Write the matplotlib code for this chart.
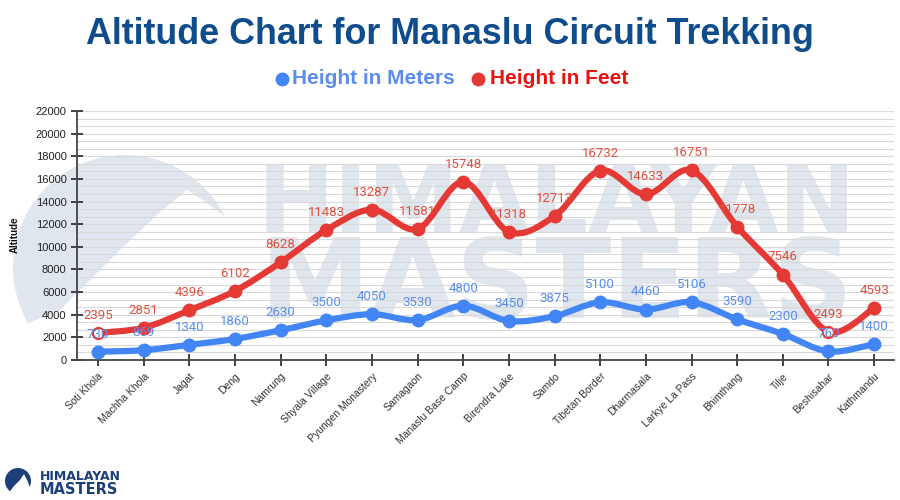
import matplotlib
matplotlib.use('Agg')
import matplotlib.pyplot as plt
from matplotlib.path import Path
from matplotlib.patches import PathPatch, Circle, Polygon
from matplotlib.lines import Line2D
from matplotlib.ticker import MultipleLocator
import numpy as np

# 数据
places = ['Soti Khola', 'Machha Khola', 'Jagat', 'Deng', 'Namrung', 'Shyala Village',
          'Pyungen Monastery', 'Samagaon', 'Manaslu Base Camp', 'Birendra Lake', 'Samdo',
          'Tibetan Border', 'Dharmasala', 'Larkye La Pass', 'Bhimthang', 'Tilje',
          'Beshisahar', 'Kathmandu']
meters = [730, 869, 1340, 1860, 2630, 3500, 4050, 3530, 4800, 3450, 3875, 5100,
          4460, 5106, 3590, 2300, 760, 1400]
feet = [2395, 2851, 4396, 6102, 8628, 11483, 13287, 11581, 15748, 11318, 12713,
        16732, 14633, 16751, 11778, 7546, 2493, 4593]
hollow = [0, 16]   # 这两个红点在原图里是空心的

blue = '#4285f4'
red = '#e53935'
blue_txt = '#5b8def'
red_txt = '#e0503f'
wm = '#e0e6ed'
logo = '#1c3f7a'


#平滑曲线 (Catmull-Rom -> Bezier)
def smooth_path(xs, ys):
    pts = list(zip(xs, ys))
    verts = [pts[0]]
    codes = [Path.MOVETO]
    n = len(pts)
    for i in range(n - 1):
        p0 = pts[i - 1] if i > 0 else pts[i]
        p1 = pts[i]
        p2 = pts[i + 1]
        p3 = pts[i + 2] if i + 2 < n else pts[i + 1]
        c1 = (p1[0] + (p2[0] - p0[0]) / 6, p1[1] + (p2[1] - p0[1]) / 6)
        c2 = (p2[0] - (p3[0] - p1[0]) / 6, p2[1] - (p3[1] - p1[1]) / 6)
        verts += [c1, c2, p2]
        codes += [Path.CURVE4] * 3
    return Path(verts, codes)


# 像素坐标(左上为原点) -> 英寸
def px(xp, yp):
    return (xp / 100.0, (500 - yp) / 100.0)


fig = plt.figure(figsize=(9, 5), dpi=100)
fig.patch.set_facecolor('white')
inch = fig.dpi_scale_trans

# 水印: 圆 + 山
circ = Circle(px(125, 267), 1.12, transform=inch, facecolor=wm, edgecolor='none', zorder=0)
ridge = Polygon([px(0, 335), px(60, 310), px(115, 255), px(160, 212), px(187, 190),
                 px(207, 203), px(270, 250), px(270, 100), px(0, 100)],
                closed=True, transform=inch, facecolor='none', edgecolor='none')
fig.patches.append(ridge)
fig.patches.append(circ)
circ.set_clip_path(ridge)

fig.text(557 / 900, 1 - 206 / 500, 'HIMALAYAN', ha='center', va='center', fontsize=66,
         fontweight='bold', color=wm, family='DejaVu Sans', zorder=0)
fig.text(557 / 900, 1 - 287 / 500, 'MASTERS', ha='center', va='center', fontsize=80,
         fontweight='bold', color=wm, family='DejaVu Sans', zorder=0)

ax = fig.add_axes([0.0856, 0.28, 0.908, 0.498])
ax.set_zorder(1)
ax.patch.set_alpha(0)

x = np.arange(len(places))

ax.add_patch(PathPatch(smooth_path(x, meters), facecolor='none', edgecolor=blue,
                       lw=4.5, capstyle='round', joinstyle='round', zorder=3))
ax.add_patch(PathPatch(smooth_path(x, feet), facecolor='none', edgecolor=red,
                       lw=4.5, capstyle='round', joinstyle='round', zorder=4))
ax.plot(x, meters, 'o', color=blue, ms=9, zorder=3)
solid = [i for i in range(len(feet)) if i not in hollow]
ax.plot(x[solid], [feet[i] for i in solid], 'o', color=red, ms=9, zorder=4)
ax.plot(x[hollow], [feet[i] for i in hollow], 'o', mfc='white', mec=red, mew=1.5,
        ms=8, zorder=4.5)

for i in range(len(places)):
    ax.annotate(str(meters[i]), (x[i], meters[i]), xytext=(0, 8), textcoords='offset points',
                ha='center', va='bottom', fontsize=9.5, color=blue_txt, family='Roboto', zorder=5)
    ax.annotate(str(feet[i]), (x[i], feet[i]), xytext=(0, 8), textcoords='offset points',
                ha='center', va='bottom', fontsize=9.5, color=red_txt, family='Roboto', zorder=5)

ax.set_xlim(-0.46, 17.44)
ax.set_ylim(0, 22000)
ax.yaxis.set_major_locator(MultipleLocator(2000))
ax.yaxis.set_minor_locator(MultipleLocator(2000 / 3))
ax.grid(which='both', axis='y', color='#d9d9d9', lw=0.8, zorder=1)
ax.set_axisbelow(True)

ax.set_xticks(x)
ax.set_xticklabels(places, rotation=45, ha='right', rotation_mode='anchor',
                   fontsize=7.5, color='#333333', family='Liberation Sans')
ax.tick_params(axis='x', direction='inout', length=8, width=1.3, color='#333333', pad=4)
ax.tick_params(axis='y', which='major', direction='inout', length=8, width=1.3,
               color='#333333', labelsize=8, labelcolor='#222222')
ax.tick_params(axis='y', which='minor', length=0)
for lab in ax.get_yticklabels():
    lab.set_family('Liberation Sans')

for s in ['top', 'right']:
    ax.spines[s].set_visible(False)
for s in ['left', 'bottom']:
    ax.spines[s].set_color('#444444')
    ax.spines[s].set_linewidth(1.3)

fig.text(0.016, 0.53, 'Altitude', rotation=90, ha='center', va='center',
         fontsize=7, fontweight='bold', family='Liberation Sans', color='#111111')

# 标题
fig.text(0.5, 0.93, 'Altitude Chart for Manaslu Circuit Trekking', ha='center', va='center',
         fontsize=25.8, fontweight='bold', color='#0f4c8c', family='Liberation Sans')

# 图例
fig.add_artist(Line2D([0.3133], [0.843], marker='o', ms=9, color=blue,
                      transform=fig.transFigure, lw=0))
fig.text(0.325, 0.843, 'Height in Meters', ha='left', va='center', fontsize=15,
         fontweight='bold', color=blue_txt, family='Liberation Sans')
fig.add_artist(Line2D([0.531], [0.843], marker='o', ms=9, color=red,
                      transform=fig.transFigure, lw=0))
fig.text(0.544, 0.843, 'Height in Feet', ha='left', va='center', fontsize=15,
         fontweight='bold', color='#e8130f', family='Liberation Sans')

# logo
lc = Circle(px(18, 481), 0.13, transform=inch, facecolor=logo, edgecolor='none', zorder=2)
fig.patches.append(lc)
fig.patches.append(Polygon([px(8, 494), px(14, 486), px(20, 480), px(24, 474), px(28, 482),
                            px(32, 494)], closed=True, transform=inch,
                           facecolor='white', edgecolor='none', zorder=2.5))
fig.text(0.044, 1 - 477 / 500, 'HIMALAYAN', ha='left', va='center', fontsize=9,
         fontweight='bold', color=logo, family='DejaVu Sans')
fig.text(0.044, 1 - 489 / 500, 'MASTERS', ha='left', va='center', fontsize=10.5,
         fontweight='bold', color=logo, family='DejaVu Sans')

plt.savefig('out.png', dpi=100)
